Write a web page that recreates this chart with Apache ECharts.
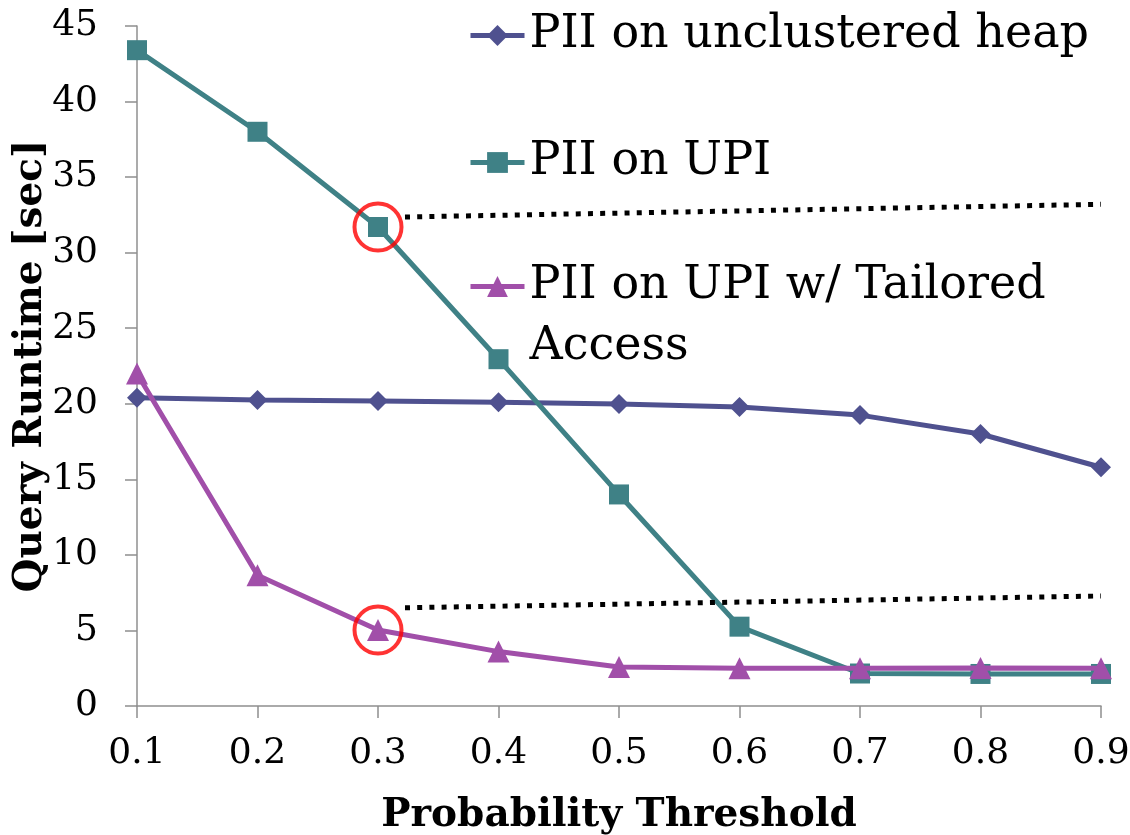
<!DOCTYPE html>
<html>
<head>
<meta charset="utf-8">
<script src="https://cdn.jsdelivr.net/npm/echarts@6/dist/echarts.min.js"></script>
<style>
  html, body { margin: 0; padding: 0; background: #ffffff; }
  #chart { width: 1130px; height: 835px; }
</style>
</head>
<body>
<div id="chart"></div>
<script>
// Probability thresholds (x axis ticks)
const thresholds = [0.1, 0.2, 0.3, 0.4, 0.5, 0.6, 0.7, 0.8, 0.9];

// Query runtime in seconds per threshold
const heapRuntime     = [20.4, 20.25, 20.18, 20.1, 19.98, 19.78, 19.25, 18.0, 15.8];
const upiRuntime      = [43.4, 38.0, 31.7, 22.95, 14.0, 5.25, 2.15, 2.12, 2.12];
const tailoredRuntime = [22.0, 8.65, 5.03, 3.6, 2.58, 2.5, 2.5, 2.52, 2.5];

// Series names
const seriesNames = [
  'PII on unclustered heap',
  'PII on UPI',
  'PII on UPI w/ Tailored Access'
];

// Dotted reference lines: [threshold, seconds] at each end
const upperRefLine = [[0.3224, 32.36], [0.9, 33.2]];
const lowerRefLine = [[0.3224, 6.5], [0.9, 7.28]];

// Highlighted point threshold
const highlightAt = 0.3;

const yTicks = { min: 0, max: 45, interval: 5 };

const FONT = 'DejaVu Serif';
const pair = (vals) => thresholds.map((t, i) => [t, vals[i]]);
const idxHighlight = thresholds.indexOf(highlightAt);

const chart = echarts.init(document.getElementById('chart'), null, { renderer: 'canvas' });

const legendBase = {
  orient: 'vertical',
  left: 468,
  padding: 0,
  itemWidth: 54,
  itemHeight: 26,
  selectedMode: false,
  lineStyle: { width: 5 },
  textStyle: { fontFamily: FONT, fontSize: 46, color: '#000', lineHeight: 61 }
};

chart.setOption({
  backgroundColor: '#ffffff',
  animation: false,
  grid: {
    left: 137, right: 29, top: 26, bottom: 129,
    containLabel: false,
    outerBoundsMode: 'none'
  },
  legend: [
    Object.assign({}, legendBase, { top: 5, data: [seriesNames[0]] }),
    Object.assign({}, legendBase, { top: 132, data: [seriesNames[1]] }),
    Object.assign({}, legendBase, {
      top: 195,
      data: [seriesNames[2]],
      // blank first line keeps the marker level with the first text line
      formatter: () => ' \nPII on UPI w/ Tailored\nAccess'
    })
  ],
  xAxis: {
    type: 'value',
    min: 0.1,
    max: 0.9,
    interval: 0.1,
    name: 'Probability Threshold',
    nameLocation: 'middle',
    nameGap: 90,
    nameMoveOverlap: false,
    nameTextStyle: { fontFamily: FONT, fontSize: 39, fontWeight: 'bold', color: '#000' },
    axisLine: { show: true, lineStyle: { color: '#8f8f8f', width: 1.5 } },
    axisTick: { show: true, length: 12, lineStyle: { color: '#8f8f8f', width: 1.5 } },
    axisLabel: {
      fontFamily: FONT, fontSize: 36, color: '#000', margin: 30,
      formatter: (v) => v.toFixed(1)
    },
    splitLine: { show: false }
  },
  yAxis: {
    type: 'value',
    min: yTicks.min,
    max: yTicks.max,
    interval: yTicks.interval,
    name: 'Query Runtime [sec]',
    nameLocation: 'middle',
    nameGap: 87,
    nameMoveOverlap: false,
    nameTextStyle: { fontFamily: FONT, fontSize: 39, fontWeight: 'bold', color: '#000' },
    axisLine: { show: true, lineStyle: { color: '#8f8f8f', width: 1.5 } },
    axisTick: { show: true, length: 12, lineStyle: { color: '#8f8f8f', width: 1.5 } },
    axisLabel: { fontFamily: FONT, fontSize: 36, color: '#000', margin: 39 },
    splitLine: { show: false }
  },
  series: [
    {
      name: seriesNames[0],
      type: 'line',
      data: pair(heapRuntime),
      symbol: 'diamond',
      symbolSize: 20,
      color: '#4f518f',
      lineStyle: { width: 5, color: '#4f518f' },
      itemStyle: { color: '#4f518f' },
      z: 2
    },
    {
      name: seriesNames[1],
      type: 'line',
      data: pair(upiRuntime),
      symbol: 'rect',
      symbolSize: 20,
      color: '#3f8186',
      lineStyle: { width: 5, color: '#3f8186' },
      itemStyle: { color: '#3f8186' },
      z: 3
    },
    {
      name: seriesNames[2],
      type: 'line',
      data: pair(tailoredRuntime),
      symbol: 'triangle',
      symbolSize: 22,
      color: '#a14fa9',
      lineStyle: { width: 5, color: '#a14fa9' },
      itemStyle: { color: '#a14fa9' },
      z: 4
    },
    {
      name: 'upper-ref',
      type: 'line',
      data: upperRefLine,
      symbol: 'none',
      lineStyle: { color: '#000', width: 5, type: [5, 7.2] },
      silent: true,
      z: 5
    },
    {
      name: 'lower-ref',
      type: 'line',
      data: lowerRefLine,
      symbol: 'none',
      lineStyle: { color: '#000', width: 5, type: [5, 7.2] },
      silent: true,
      z: 5
    },
    {
      name: 'highlight',
      type: 'scatter',
      data: [
        [highlightAt, upiRuntime[idxHighlight]],
        [highlightAt, tailoredRuntime[idxHighlight]]
      ],
      symbol: 'circle',
      symbolSize: 47,
      itemStyle: { color: 'rgba(0,0,0,0)', borderColor: '#ff0000', borderWidth: 4 },
      silent: true,
      z: 6
    }
  ]
});
</script>
</body>
</html>
